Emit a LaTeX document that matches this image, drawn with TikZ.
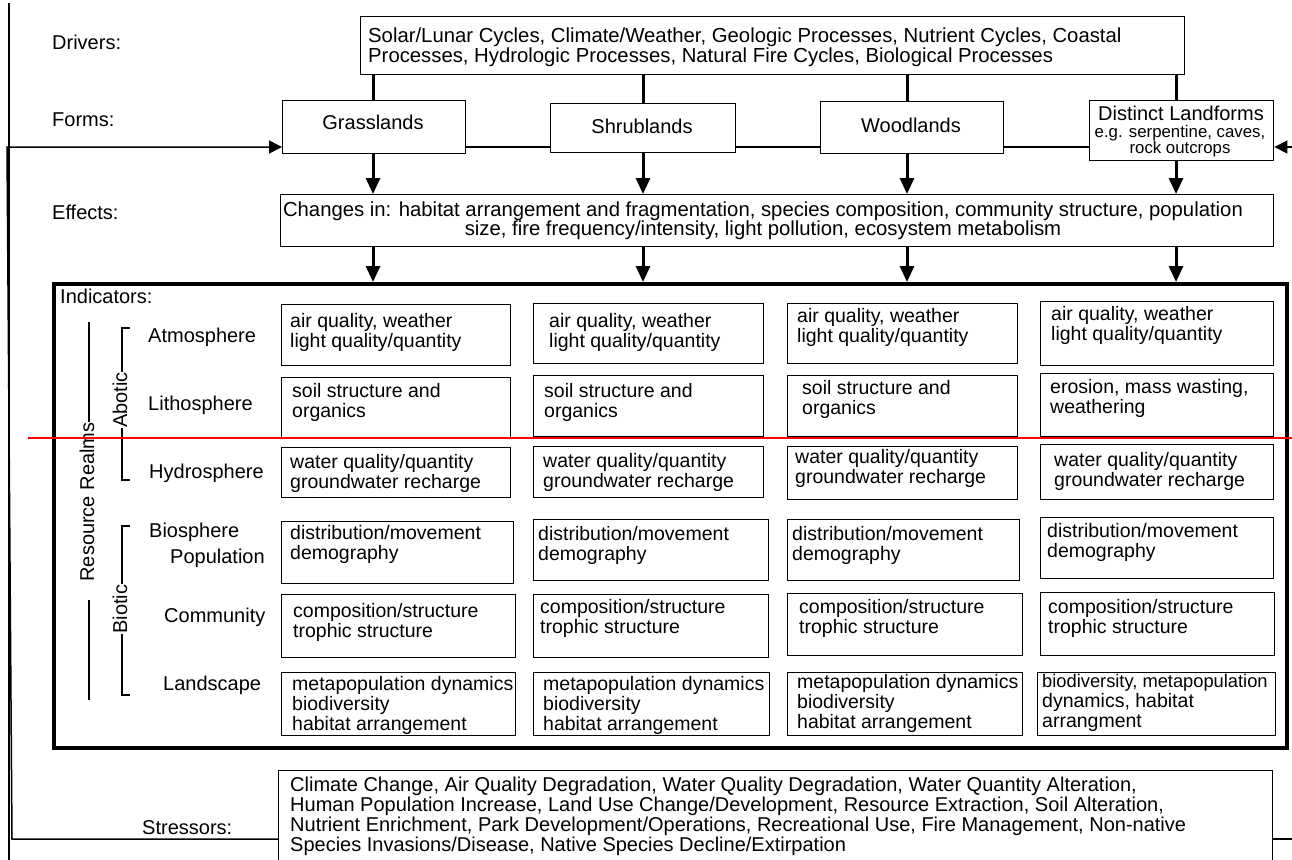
\documentclass[tikz,border=0pt]{standalone}
\usepackage{fontspec}
\setmainfont{Liberation Sans}
\usetikzlibrary{arrows.meta}

\newcommand\fs{\fontsize{20}{20}\selectfont}
\newcommand\fsi{\fontsize{19.5}{20}\selectfont}
% indicator cell: name, left, top, width, height, text inset, first-line centre, text
\newcommand\indbox[8]{%
  \node[ibox, minimum width=#4, minimum height=#5] (#1) at (#2,#3) {};
  \node[itxt] (#1t) at ({#2+#6},{#7-9}) {#8};}

\begin{document}
\begin{tikzpicture}[x=1pt,y=-1pt,
  ibox/.style={draw, line width=1.4pt, inner sep=0pt, anchor=north west},
  itxt/.style={font=\fsi, align=left, inner sep=0pt, anchor=north west},
  lbl/.style={font=\fs, inner sep=0pt, anchor=west},
  thk/.style={line width=3pt},
  dn/.style={thk, -{Triangle[length=16pt,width=14pt]}},
  lp/.style={line width=1.5pt},
  lparr/.style={lp, -{Triangle[length=13pt,width=13pt]}},
  brk/.style={line width=1.3pt}]

\useasboundingbox (0,0) rectangle (1292,859);

% ---------- row labels ----------
\node[lbl] (ldrv) at (52,42) {Drivers:};
\node[lbl] (lfrm) at (52,120) {Forms:};
\node[lbl] (leff) at (52,212) {Effects:};
\node[lbl] (lstr) at (142,828) {Stressors:};

% ---------- drivers ----------
\node[ibox, minimum width=824, minimum height=58] (drv) at (360,16) {};
\node[itxt, font=\fontsize{20.3}{20}\selectfont] (drvt) at (368,28) {Solar/Lunar Cycles, Climate/Weather, Geologic Processes, Nutrient Cycles, Coastal\\Processes, Hydrologic Processes, Natural Fire Cycles, Biological Processes};

% ---------- forms ----------
\node[ibox, minimum width=183, minimum height=53] (grass) at (282,100) {};
\node[font=\fs, inner sep=0pt] (grasst) at (373,122) {Grasslands};
\node[ibox, minimum width=185, minimum height=49] (shrub) at (550,103) {};
\node[font=\fs, inner sep=0pt] (shrubt) at (642,126) {Shrublands};
\node[ibox, minimum width=183, minimum height=52] (wood) at (820,101) {};
\node[font=\fs, inner sep=0pt] (woodt) at (911,125) {Woodlands};
\node[ibox, minimum width=184, minimum height=60] (dist) at (1089,100) {};
\node[font=\fs, inner sep=0pt] (distt) at (1181,113) {Distinct Landforms};
\node[font=\fontsize{16.8}{15.5}\selectfont, align=center, inner sep=0pt] (distu) at (1180,141) {e.g. serpentine, caves,\\rock outcrops};

% ---------- effects ----------
\node[ibox, minimum width=993, minimum height=52] (eff) at (280,194) {};
\node[font=\fontsize{20.3}{19}\selectfont, align=center, inner sep=0pt] (efft) at (763,221) {Changes in: habitat arrangement and fragmentation, species composition, community structure, population\\size, fire frequency/intensity, light pollution, ecosystem metabolism};

% ---------- indicators frame ----------
\node[draw, line width=3.5pt, inner sep=0pt, anchor=north west, minimum width=1233, minimum height=464] (ind) at (52,282) {};
\node[lbl] (lind) at (60,296) {Indicators:};

% realm labels
\node[lbl] (atm) at (148,337) {Atmosphere};
\node[lbl] (lit) at (148,405) {Lithosphere};
\node[lbl] (hyd) at (149,473) {Hydrosphere};
\node[lbl] (bio) at (149,532) {Biosphere};
\node[lbl] (pop) at (170,558) {Population};
\node[lbl] (com) at (164,617) {Community};
\node[lbl] (lan) at (163,685) {Landscape};

% resource realms bracket
\node[font=\fs, inner sep=0pt, rotate=90] (rr) at (87,502) {Resource Realms};
\coordinate (rrA) at (89,322);
\coordinate (rrB) at (89,600);
\coordinate (rrC) at (89,700);
\draw[brk] (rrA) -- (rr.east -| rrA);
\draw[brk] (rrB) -- (rrC);

% abiotic / biotic brackets
\node[font=\fs, inner sep=0pt, rotate=90] (abo) at (120,400) {Abotic};
\node[font=\fs, inner sep=0pt, rotate=90] (bto) at (120,609) {Biotic};
\coordinate (abT) at (122,328);
\coordinate (abB) at (122,480);
\coordinate (btT) at (122,526);
\coordinate (btB) at (122,695);
\draw[brk] ([xshift=8pt]abT) -- (abT) -- (abo.east -| abT);
\draw[brk] (abo.west -| abB) -- (abB) -- ([xshift=8pt]abB);
\draw[brk] ([xshift=8pt]btT) -- (btT) -- (bto.east -| btT);
\draw[brk] (bto.west -| btB) -- (btB) -- ([xshift=8pt]btB);

% ---------- indicator cells ----------
% grasslands
\indbox{a1}{281}{304}{229}{61}{9}{322}{air quality, weather\\light quality/quantity}
\indbox{l1}{281}{377}{229}{60}{11}{392}{soil structure and\\organics}
\indbox{h1}{281}{447}{229}{50}{9}{463}{water quality/quantity\\groundwater recharge}
\indbox{b1}{281}{521}{232}{62}{9}{534}{distribution/movement\\demography}
\indbox{m1}{281}{594}{234}{63}{12}{612}{composition/structure\\trophic structure}
\indbox{s1}{281}{672}{234}{63}{11}{685}{\fontsize{19.5}{19}\selectfont metapopulation dynamics\\biodiversity\\habitat arrangement}
% shrublands
\indbox{a2}{533}{303}{230}{60}{16}{322}{air quality, weather\\light quality/quantity}
\indbox{l2}{533}{375}{230}{61}{11}{392}{soil structure and\\organics}
\indbox{h2}{533}{446}{230}{51}{10}{462}{water quality/quantity\\groundwater recharge}
\indbox{b2}{533}{519}{235}{61}{5}{535}{distribution/movement\\demography}
\indbox{m2}{533}{594}{235}{63}{7}{608}{composition/structure\\trophic structure}
\indbox{s2}{533}{672}{236}{63}{10}{685}{\fontsize{19.5}{19}\selectfont metapopulation dynamics\\biodiversity\\habitat arrangement}
% woodlands
\indbox{a3}{787}{303}{230}{60}{10}{317}{air quality, weather\\light quality/quantity}
\indbox{l3}{787}{375}{230}{61}{15}{389}{soil structure and\\organics}
\indbox{h3}{787}{446}{230}{53}{8}{458}{water quality/quantity\\groundwater recharge}
\indbox{b3}{787}{519}{232}{61}{5}{535}{distribution/movement\\demography}
\indbox{m3}{787}{593}{235}{62}{12}{608}{composition/structure\\trophic structure}
\indbox{s3}{787}{672}{235}{63}{10}{683}{\fontsize{19.5}{19}\selectfont metapopulation dynamics\\biodiversity\\habitat arrangement}
% distinct landforms
\indbox{a4}{1040}{301}{233}{64}{11}{315}{air quality, weather\\light quality/quantity}
\indbox{l4}{1040}{373}{233}{63}{10}{388}{erosion, mass wasting,\\weathering}
\indbox{h4}{1040}{444}{233}{55}{14}{461}{water quality/quantity\\groundwater recharge}
\indbox{b4}{1040}{517}{233}{61}{7}{532}{distribution/movement\\demography}
\indbox{m4}{1040}{592}{234}{63}{8}{608}{composition/structure\\trophic structure}
\indbox{s4}{1037}{672}{238}{63}{5}{683}{\fontsize{18.3}{19.5}\selectfont biodiversity, metapopulation\\dynamics, habitat\\arrangment}

% ---------- stressors ----------
\node[ibox, minimum width=994, minimum height=120] (str) at (278,770) {};
\node[itxt, font=\fontsize{20}{20}\selectfont] (strt) at (290,777) {Climate Change, Air Quality Degradation, Water Quality Degradation, Water Quantity Alteration,\\Human Population Increase, Land Use Change/Development, Resource Extraction, Soil Alteration,\\Nutrient Enrichment, Park Development/Operations, Recreational Use, Fire Management, Non-native\\Species Invasions/Disease, Native Species Decline/Extirpation};

% ---------- connectors ----------
\coordinate (c1) at (373,0);
\coordinate (c2) at (643,0);
\coordinate (c3) at (907,0);
\coordinate (c4) at (1176,0);
\foreach \c/\f in {c1/grass,c2/shrub,c3/wood,c4/dist}{
  \draw[thk] (drv.south -| \c) -- (\f.north -| \c);
  \draw[dn] (\f.south -| \c) -- (eff.north -| \c);
  \draw[dn] (eff.south -| \c) -- (ind.north -| \c);
}

% stressor feedback loops into the forms row
\coordinate (lt) at (12,147);
\coordinate (lb) at (12,839);
\coordinate (rt) at (1300,147);
\coordinate (rb) at (1300,839);
\draw[line width=2pt] (9,3) -- (9,862);
\draw[lparr] (str.west |- lb) -- (lb) -- ([xshift=-5pt]lt) -- (grass.west |- lt);
\draw[lp] (grass.east |- lt) -- (shrub.west |- lt);
\draw[lp] (shrub.east |- lt) -- (wood.west |- lt);
\draw[lp] (wood.east |- lt) -- (dist.west |- lt);
\draw[lparr] (str.east |- rb) -- (rb) -- (rt) -- (dist.east |- rt);

% red rule across the indicator rows
\coordinate (redA) at (28,438);
\coordinate (redB) at (1292,438);
\draw[red, line width=2pt] (redA) -- (redB);
\end{tikzpicture}
\end{document}
